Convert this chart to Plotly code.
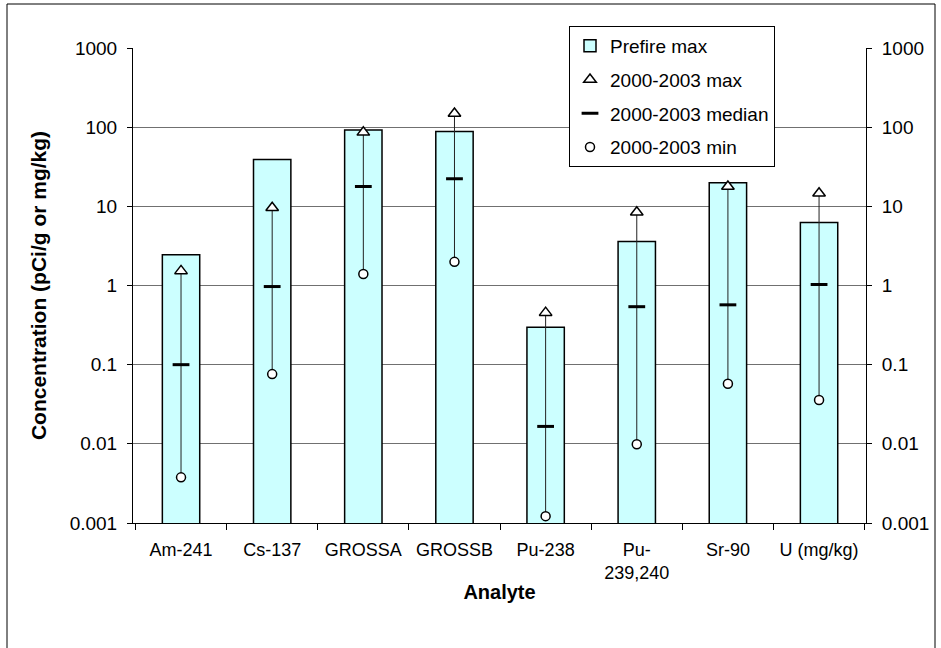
import plotly.graph_objects as go

categories = ["Am-241", "Cs-137", "GROSSA", "GROSSB", "Pu-238", "Pu-<br>239,240", "Sr-90", "U (mg/kg)"]
prefire_max = [2.44, 39, 92, 88, 0.297, 3.6, 19.8, 6.25]
max_0003 = [1.53, 9.6, 86, 149, 0.454, 8.4, 17.8, 14.6]
median_0003 = [0.1, 0.97, 17.8, 22.3, 0.0166, 0.54, 0.57, 1.03]
min_0003 = [0.00377, 0.076, 1.40, 1.99, 0.00122, 0.0099, 0.0575, 0.0358]

tickvals = [0.001, 0.01, 0.1, 1, 10, 100, 1000]
ticktext = ["0.001", "0.01", "0.1", "1", "10", "100", "1000"]

FONT = "Arial, Liberation Sans, sans-serif"

fig = go.Figure()

fig.add_trace(go.Bar(
    x=categories, y=prefire_max, name="Prefire max",
    width=0.41,
    marker=dict(color="#CCFFFF", line=dict(color="black", width=1.5)),
    legendgroup="a",
))

# vertical range line min -> max
fig.add_trace(go.Scatter(
    x=categories, y=min_0003, mode="markers", showlegend=False,
    marker=dict(size=1, color="rgba(0,0,0,0)"),
    error_y=dict(type="data", symmetric=False,
                 array=[mx - mn for mx, mn in zip(max_0003, min_0003)],
                 arrayminus=[0] * len(min_0003),
                 width=0, thickness=1, color="#222222"),
    hoverinfo="skip",
))

fig.add_trace(go.Scatter(
    x=categories, y=max_0003, mode="markers", name="2000-2003 max",
    marker=dict(symbol="triangle-up", size=11, color="white", line=dict(color="black", width=1.5)),
    legendgroup="b",
))
fig.add_trace(go.Scatter(
    x=categories, y=median_0003, mode="markers", name="2000-2003 median",
    marker=dict(symbol="line-ew", size=12, color="black", line=dict(color="black", width=3)),
    legendgroup="c",
))
fig.add_trace(go.Scatter(
    x=categories, y=min_0003, mode="markers", name="2000-2003 min",
    marker=dict(symbol="circle", size=9, color="white", line=dict(color="black", width=1.5)),
    legendgroup="d",
))

# invisible trace to activate right axis
fig.add_trace(go.Scatter(x=categories, y=prefire_max, yaxis="y2", mode="markers",
                         marker=dict(opacity=0), showlegend=False, hoverinfo="skip"))

W, H = 941, 648
L, R, T, B = 133, 75, 48, 125
pw, ph = W - L - R, H - T - B


def px(x):
    return (x - L) / pw


def py(y):
    return (H - B - y) / ph


fig.update_layout(
    width=W, height=H,
    margin=dict(l=L, r=R, t=T, b=B, autoexpand=False),
    paper_bgcolor="white", plot_bgcolor="white",
    font=dict(family=FONT, size=19, color="black"),
    showlegend=True,
    legend=dict(
        x=px(569), y=py(26), xanchor="left", yanchor="top",
        bgcolor="white", bordercolor="black", borderwidth=1,
        font=dict(family=FONT, size=19, color="black"),
        traceorder="grouped", tracegroupgap=6,
        itemwidth=30,
    ),
    xaxis=dict(
        type="category", range=[-0.527, 7.515],
        showline=True, linecolor="black", linewidth=1,
        ticks="outside", ticklen=6, tickcolor="black", tickson="boundaries",
        tickangle=0,
        ticklabelstandoff=10,
        tickfont=dict(family=FONT, size=18),
        title=dict(text="<b>Analyte</b>", font=dict(family=FONT, size=20), standoff=2),
        showgrid=False,
    ),
    yaxis=dict(
        type="log", range=[-3, 3],
        tickvals=tickvals, ticktext=ticktext,
        showline=True, linecolor="black", linewidth=1,
        ticks="outside", ticklen=5, tickcolor="black",
        ticklabelstandoff=6,
        showgrid=True, gridcolor="#707070", gridwidth=1,
        zeroline=False,
        tickfont=dict(family=FONT, size=19),
        title=dict(text="<b>Concentration (pCi/g or mg/kg)</b>", font=dict(family=FONT, size=21), standoff=17),
    ),
    yaxis2=dict(
        type="log", range=[-3, 3], overlaying="y", side="right",
        tickvals=tickvals, ticktext=ticktext,
        showline=True, linecolor="black", linewidth=1,
        ticks="outside", ticklen=5, tickcolor="black",
        ticklabelstandoff=6,
        showgrid=False, zeroline=False,
        tickfont=dict(family=FONT, size=19),
    ),
    shapes=[
        dict(type="rect", xref="paper", yref="paper",
             x0=px(7), x1=px(935), y0=py(680), y1=py(4),
             line=dict(color="black", width=1), fillcolor="rgba(0,0,0,0)", layer="below"),
    ],
)

fig.write_html("out.html", config={"displayModeBar": False},
               post_script="document.body.style.margin='0';")
